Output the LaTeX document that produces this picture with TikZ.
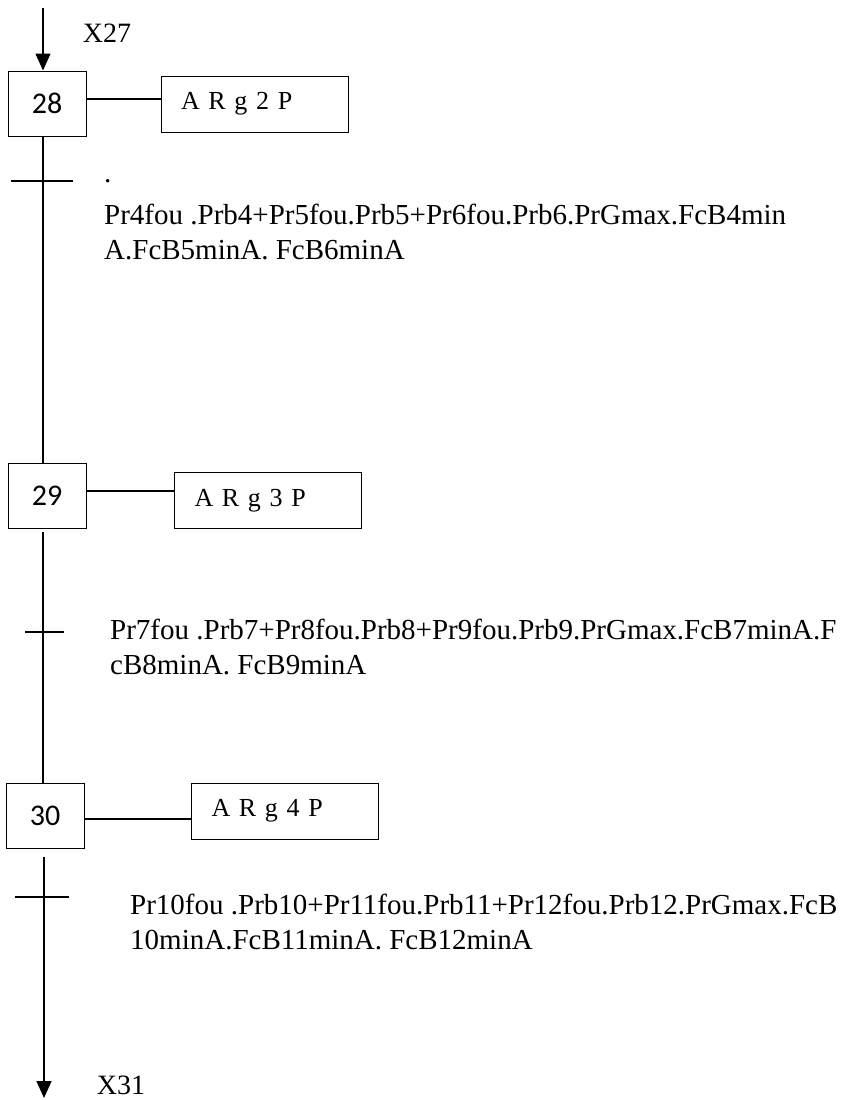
\documentclass[tikz,border=0pt]{standalone}
\usepackage{fontspec}
\setmainfont{Liberation Serif}
\newfontfamily\stepfont{Carlito}
\usetikzlibrary{arrows.meta}

\begin{document}
\begin{tikzpicture}[x=1pt, y=-1pt,
        stepnode/.style={rectangle, draw, line width=1pt, minimum width=78pt, minimum height=65pt, inner sep=0pt, font=\stepfont\fontsize{30}{34}\selectfont},
        actnode/.style={rectangle, draw, line width=1pt, text width=147pt, inner xsep=20pt, minimum height=56pt, align=left, font={\fontsize{26}{28}\selectfont\spaceskip=11pt}},
        condtext/.style={align=left, anchor=base west, inner sep=0pt, font=\fontsize{29}{35}\selectfont},
        varlabel/.style={font=\fontsize{28}{30}\selectfont},
        link/.style={line width=1.4pt},
        tip/.style={-{Triangle[length=17pt,width=15pt]}},
        ]
                \useasboundingbox (0,0) rectangle (853,1100);

                \node[stepnode]  at(47,103.5) (s28) {28};
                \node[actnode]   at(254.5,104) (a28) {A R g 2 P};
                \node[stepnode]  at(47,496) (s29) {29};
                \node[actnode]   at(268,500.5) (a29) {A R g 3 P};
                \node[stepnode]  at(45,815.5) (s30) {30};
                \node[actnode]   at(285,811) (a30) {A R g 4 P};

                \node[varlabel]  at(107,33) (x27) {X27};
                \node[varlabel]  at(121,1085) (x31) {X31};

                \coordinate (in)  at (43,8);
                \coordinate (out) at (44,1098);
                \coordinate (t1l) at (11,181);
                \coordinate (t1r) at (73,181);
                \coordinate (t2l) at (25,632);
                \coordinate (t2r) at (64,632);
                \coordinate (t3l) at (15,897);
                \coordinate (t3r) at (69,897);

                % base anchor sits on the last line
                \node[condtext]  at(104,259) (c1) {.\\[7pt]Pr4fou .Prb4+Pr5fou.Prb5+Pr6fou.Prb6.PrGmax.FcB4min\\A.FcB5minA. FcB6minA};
                \node[condtext]  at(110,674) (c2) {Pr7fou .Prb7+Pr8fou.Prb8+Pr9fou.Prb9.PrGmax.FcB7minA.F\\cB8minA. FcB9minA};
                \node[condtext]  at(130,949) (c3) {Pr10fou .Prb10+Pr11fou.Prb11+Pr12fou.Prb12.PrGmax.FcB\\10minA.FcB11minA. FcB12minA};

                \draw[link, tip] (in)  --  (in |- s28.north) ;
                \draw[link] (in |- s28.south)  --  (in |- s29.north) ;
                \draw[link, shorten <=3pt] (in |- s29.south)  --  (in |- s30.north) ;
                \draw[link, tip, shorten <=8pt] (out |- s30.south)  --  (out) ;

                \draw[link] (t1l)  --  (t1r) ;
                \draw[link] (t2l)  --  (t2r) ;
                \draw[link] (t3l)  --  (t3r) ;

                \draw[link] ([yshift=4.5pt]s28.east)  --  ([yshift=4.5pt]s28.east -| a28.west) ;
                \draw[link] ([yshift=5pt]s29.east)  --  ([yshift=5pt]s29.east -| a29.west) ;
                \draw[link] ([yshift=-3.5pt]s30.east)  --  ([yshift=-3.5pt]s30.east -| a30.west) ;

            \end{tikzpicture}
\end{document}
